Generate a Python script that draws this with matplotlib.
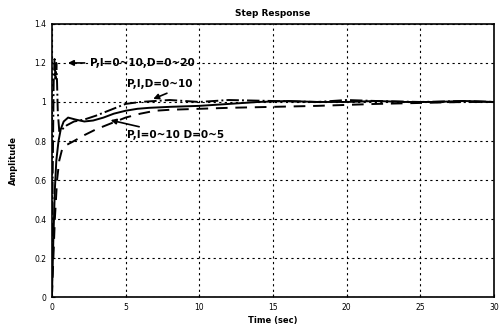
import matplotlib
matplotlib.use("Agg")
import matplotlib.pyplot as plt

# P,I,D=0~10 (solid)
t_pid = [0, 0.1, 0.2, 0.3, 0.45, 0.6, 0.8, 1.1, 1.6, 2.2, 2.8, 3.5, 4.2, 5.0, 5.8, 6.6, 8, 10, 12, 14, 16, 18, 20, 22, 24, 26, 28, 30]
y_pid = [0, 0.3, 0.55, 0.7, 0.8, 0.86, 0.9, 0.92, 0.91, 0.90, 0.905, 0.92, 0.94, 0.955, 0.965, 0.97, 0.975, 0.98, 0.99, 1.0, 1.005, 1.0, 1.0, 1.005, 1.0, 1.0, 1.005, 1.0]

# P,I=0~10 D=0~5 (dashed)
t_pd5 = [0, 0.1, 0.2, 0.35, 0.5, 0.7, 1.0, 1.5, 2.2, 3.0, 4.0, 5.0, 6.0, 7.0, 8.0, 10, 12, 15, 18, 20, 22, 25, 28, 30]
y_pd5 = [0, 0.2, 0.4, 0.6, 0.7, 0.76, 0.78, 0.8, 0.83, 0.86, 0.89, 0.92, 0.94, 0.955, 0.96, 0.965, 0.97, 0.975, 0.98, 0.985, 0.99, 0.995, 1.0, 1.0]

# P,I=0~10,D=0~20 (dash-dot)
t_pd20 = [0, 0.05, 0.12, 0.18, 0.25, 0.3, 0.35, 0.4, 0.5, 0.7, 1.0, 1.5, 2.2, 3.0, 4.0, 5.0, 6.0, 7.0, 8, 10, 12, 15, 18, 20, 22, 25, 28, 30]
y_pd20 = [0, 0.6, 1.1, 1.22, 1.12, 1.2, 1.1, 0.95, 0.85, 0.86, 0.88, 0.9, 0.91, 0.93, 0.96, 0.99, 1.0, 1.005, 1.01, 1.0, 1.01, 1.005, 1.0, 1.01, 1.005, 1.0, 1.005, 1.0]

xticks = [0, 5, 10, 15, 20, 25, 30]
yticks = [0, 0.2, 0.4, 0.6, 0.8, 1, 1.2, 1.4]

fig = plt.figure(figsize=(4.99, 3.32), dpi=100)
ax = fig.add_axes([0.104, 0.105, 0.886, 0.823])

ax.plot(t_pid, y_pid, color="black", lw=1.4, ls="-")
ax.plot(t_pd5, y_pd5, color="black", lw=1.4, ls=(0, (6, 4)))
ax.plot(t_pd20, y_pd20, color="black", lw=1.4, ls="-.")

ax.set_xlim(0, 30)
ax.set_ylim(0, 1.4)
ax.set_xticks(xticks)
ax.set_xticklabels([str(v) for v in xticks])
ax.set_yticks(yticks)
ax.set_yticklabels(["0", "0.2", "0.4", "0.6", "0.8", "1", "1.2", "1.4"])
ax.tick_params(labelsize=5.5, length=2, direction="in", pad=4)
ax.grid(True, color="black", ls=(0, (2, 3)), lw=0.8)
for s in ax.spines.values():
    s.set_linewidth(1.2)

ax.set_title("Step Response", fontsize=6.5, fontweight="bold", pad=6)
ax.set_xlabel("Time (sec)", fontsize=6, fontweight="bold", labelpad=3)
ax.set_ylabel("Amplitude", fontsize=6, fontweight="bold", labelpad=12)

arrow = dict(arrowstyle="-|>", color="black", lw=1.2, mutation_scale=8)
ax.annotate("P,I=0~10,D=0~20", xy=(0.9, 1.2), xytext=(2.6, 1.2),
            fontsize=7.5, fontweight="bold", va="center", arrowprops=arrow)
ax.annotate("P,I,D=0~10", xy=(6.7, 1.01), xytext=(5.1, 1.09),
            fontsize=7.5, fontweight="bold", va="center",
            arrowprops=dict(arrowstyle="-|>", color="black", lw=1.2, mutation_scale=8,
                            relpos=(0.75, 0)))
ax.annotate("P,I=0~10 D=0~5", xy=(3.8, 0.91), xytext=(5.1, 0.83),
            fontsize=7.5, fontweight="bold", va="center", arrowprops=arrow)

fig.savefig("out.png", dpi=100)
